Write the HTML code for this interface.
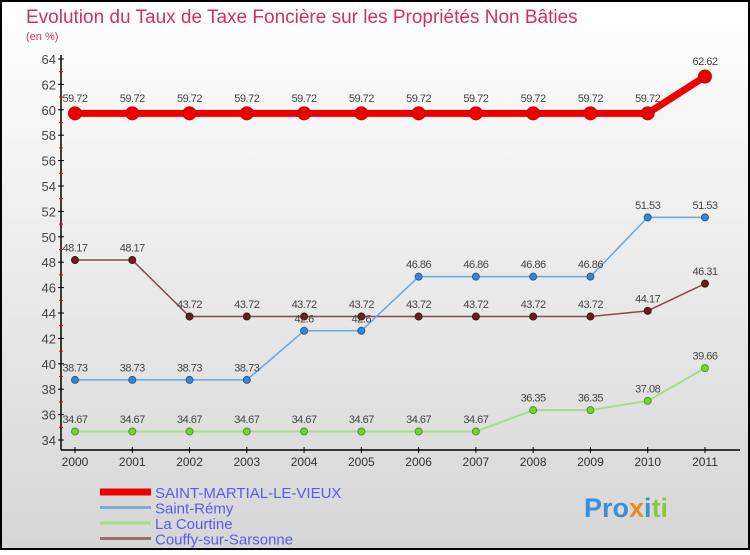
<!DOCTYPE html>
<html><head><meta charset="utf-8"><style>
body{margin:0;width:750px;height:550px;overflow:hidden;font-family:"Liberation Sans",sans-serif}
</style></head><body>
<svg width="750" height="550" xmlns="http://www.w3.org/2000/svg">
<defs><linearGradient id="bg" x1="0" y1="0" x2="0" y2="1"><stop offset="0" stop-color="#ffffff"/><stop offset="1" stop-color="#d6d6d6"/></linearGradient></defs>
<rect x="1" y="1" width="748" height="548" fill="url(#bg)" stroke="#000" stroke-width="2"/>
<text x="26" y="23" font-size="19" fill="#d0306a">Evolution du Taux de Taxe Foncière sur les Propriétés Non Bâties</text>
<text x="26" y="40" font-size="11" fill="#d0306a">(en %)</text>
<g id="axes"></g>
<g id="series"></g>
<g id="legend"></g>
<text x="584" y="517" font-size="27" font-weight="bold"><tspan fill="#3a8fd8">Pro</tspan><tspan fill="#f08a1c">x</tspan><tspan fill="#3a8fd8">i</tspan><tspan fill="#8cc63f">ti</tspan></text>
</svg>
<script>
const years=["2000","2001","2002","2003","2004","2005","2006","2007","2008","2009","2010","2011"];
const yTicks=[34,36,38,40,42,44,46,48,50,52,54,56,58,60,62,64];
const saintMartial=[59.72,59.72,59.72,59.72,59.72,59.72,59.72,59.72,59.72,59.72,59.72,62.62];
const saintRemy=[38.73,38.73,38.73,38.73,42.6,42.6,46.86,46.86,46.86,46.86,51.53,51.53];
const laCourtine=[34.67,34.67,34.67,34.67,34.67,34.67,34.67,34.67,36.35,36.35,37.08,39.66];
const couffy=[48.17,48.17,43.72,43.72,43.72,43.72,43.72,43.72,43.72,43.72,44.17,46.31];
const NS="http://www.w3.org/2000/svg";
const X=i=>75+i*57.27, Y=v=>440-(v-34)*12.7;
function mk(tag,attrs,parent,text){const e=document.createElementNS(NS,tag);for(const k in attrs)e.setAttribute(k,attrs[k]);if(text!==undefined)e.textContent=text;parent.appendChild(e);return e;}
const ax=document.getElementById('axes');
let a=mk('line',{x1:61,y1:55,x2:61,y2:450,stroke:'#000','stroke-width':1.5},ax);

a=mk('line',{x1:61,y1:450,x2:740,y2:450,stroke:'#000','stroke-width':1.5},ax);

yTicks.forEach(v=>{const y=Y(v);
 mk('line',{x1:58,y1:y,x2:64,y2:y,stroke:'#000'},ax);
 if(v<64)mk('line',{x1:59,y1:Y(v+1),x2:63,y2:Y(v+1),stroke:'#e00'},ax);
 const t=mk('text',{x:56,y:y+5,'font-size':13,'text-anchor':'end',fill:'#444'},ax,String(v));
 });
years.forEach((yr,i)=>{const x=X(i);
 mk('line',{x1:x,y1:447,x2:x,y2:453,stroke:'#000'},ax);
 const t=mk('text',{x:x,y:466,'font-size':12,'text-anchor':'middle',fill:'#333'},ax,yr);
 });
const sg=document.getElementById('series');
function draw(name,vals,color,w,r,dot,stroke){
 const g=mk('g',{},sg);
 const p=mk('polyline',{points:vals.map((v,i)=>X(i)+','+Y(v)).join(' '),fill:'none',stroke:color,'stroke-width':w,'stroke-linejoin':'round'},g);
 
 vals.forEach((v,i)=>{const c=mk('circle',{cx:X(i),cy:Y(v),r:r,fill:dot,stroke:stroke,'stroke-width':1},g);
  
  const t=mk('text',{x:X(i),y:Y(v)-(r+5),'font-size':11,'text-anchor':'middle',fill:'#444','letter-spacing':'-0.5'},g,String(v));
  });
}
draw('la-courtine',laCourtine,'#a8dc88',2,3.5,'#7ccd3c','#4a9a20');
draw('couffy',couffy,'#8a4a4a',1.5,3.5,'#6b1f1f','#4a1010');
draw('saint-remy',saintRemy,'#6aa6d6',1.5,3.5,'#3a86c6','#2060a0');
draw('saint-martial',saintMartial,'#ee0000',7,6.5,'#ee0000','#c00');
const lg=document.getElementById('legend');
[["SAINT-MARTIAL-LE-VIEUX","#ee0000",7],["Saint-Rémy","#7fadd0",3],["La Courtine","#a8dc88",3],["Couffy-sur-Sarsonne","#957070",3]].forEach((e,i)=>{
 const y=492+i*15.5;
 const l=mk('line',{x1:100,y1:y,x2:151,y2:y,stroke:e[1],'stroke-width':e[2]},lg);
 
 const t=mk('text',{x:155,y:y+6,'font-size':15,fill:'#5a5aee'},lg,e[0]);
 });
</script>
</body></html>
